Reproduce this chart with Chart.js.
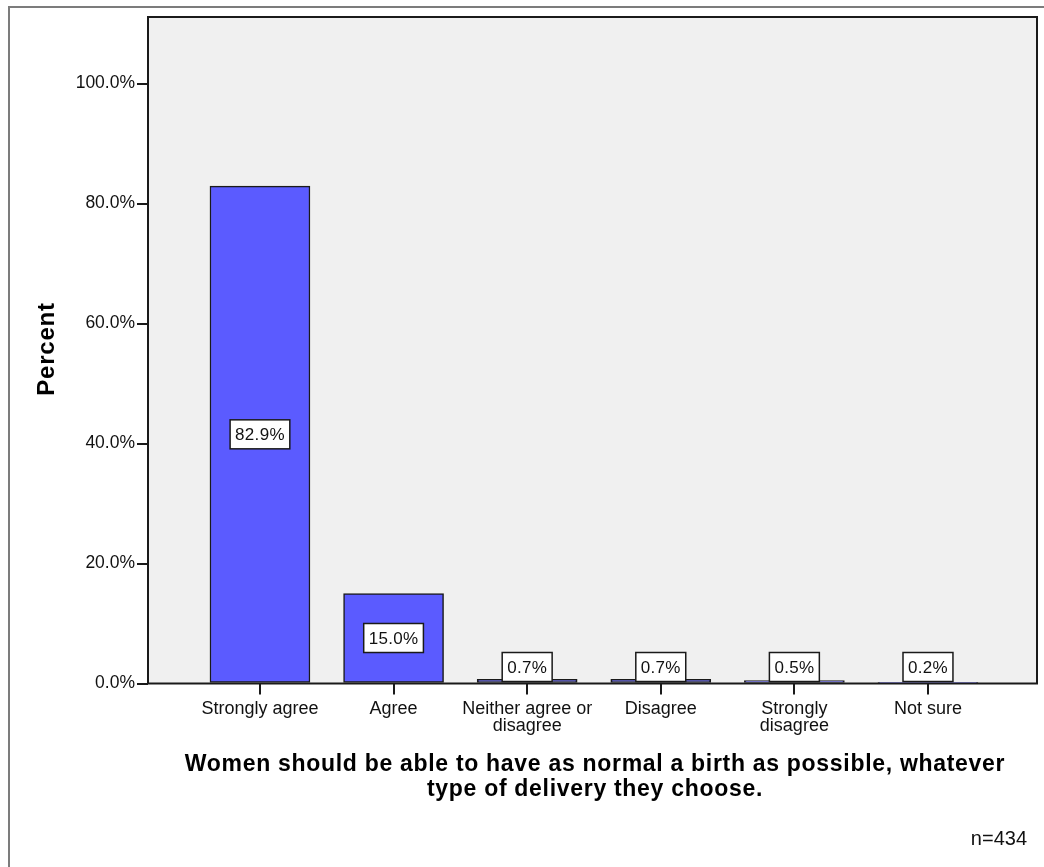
<!DOCTYPE html>
<html>
<head>
<meta charset="utf-8">
<script src="https://cdn.jsdelivr.net/npm/chart.js@4/dist/chart.umd.min.js"></script>
<style>
  body { margin: 0; background: #fff; }
  canvas { display: block; }
</style>
</head>
<body>
<canvas id="chart" width="1044" height="867"></canvas>
<script>
const categories = [
  'Strongly agree',
  'Agree',
  ['Neither agree or', 'disagree'],
  'Disagree',
  ['Strongly', 'disagree'],
  'Not sure'
]
const percents = [82.9, 15.0, 0.7, 0.7, 0.5, 0.2]
const yTicks = [0, 20, 40, 60, 80, 100]
const xTitle = ['Women should be able to have as normal a birth as possible, whatever', 'type of delivery they choose.']
const yTitle = 'Percent'
const note = 'n=434'

const FONT = 'Liberation Sans, Arial, sans-serif'
const INK = '#1a1a1a'

// frame, plot background, value boxes and titles
const decor = {
  id: 'decor',
  beforeDraw (chart) {
    const { ctx, chartArea: a } = chart
    ctx.save()
    ctx.fillStyle = '#fff'
    ctx.fillRect(0, 0, chart.width, chart.height)
    ctx.strokeStyle = '#7c7c7c'
    ctx.lineWidth = 2
    ctx.strokeRect(9, 7, chart.width + 20, chart.height + 20)
    ctx.fillStyle = '#f0f0f0'
    ctx.fillRect(a.left, a.top, a.right - a.left, a.bottom - a.top)
    ctx.restore()
  },
  afterDatasetsDraw (chart) {
    const { ctx, chartArea: a } = chart
    ctx.save()
    ctx.strokeStyle = INK
    ctx.lineWidth = 2
    ctx.strokeRect(a.left, a.top, a.right - a.left, a.bottom - a.top)

    ctx.font = '17px ' + FONT
    ctx.letterSpacing = '0.3px'
    ctx.textAlign = 'center'
    ctx.textBaseline = 'middle'
    const h = 29
    chart.getDatasetMeta(0).data.forEach((bar, i) => {
      const text = percents[i].toFixed(1) + '%'
      const w = ctx.measureText(text).width + 10
      let cy = (bar.y + bar.base) / 2
      cy = Math.min(cy, bar.base - 1 - h / 2)
      ctx.fillStyle = '#fff'
      ctx.fillRect(bar.x - w / 2, cy - h / 2, w, h)
      ctx.lineWidth = 1.5
      ctx.strokeStyle = INK
      ctx.strokeRect(bar.x - w / 2, cy - h / 2, w, h)
      ctx.fillStyle = '#111'
      ctx.fillText(text, bar.x, cy + 1)
    })
    ctx.restore()
  },
  afterDraw (chart) {
    const { ctx } = chart
    ctx.save()
    ctx.fillStyle = '#000'
    ctx.font = 'bold 23px ' + FONT
    ctx.letterSpacing = '0.7px'
    ctx.textAlign = 'center'
    ctx.textBaseline = 'alphabetic'
    xTitle.forEach((line, i) => ctx.fillText(line, 595, 771 + i * 25))

    ctx.font = 'bold 24px ' + FONT
    ctx.letterSpacing = '0.8px'
    ctx.textBaseline = 'middle'
    ctx.translate(47, 349)
    ctx.rotate(-Math.PI / 2)
    ctx.fillText(yTitle, 0, 0)
    ctx.setTransform(1, 0, 0, 1, 0, 0)

    ctx.font = '20px ' + FONT
    ctx.letterSpacing = '0px'
    ctx.textAlign = 'right'
    ctx.fillStyle = '#111'
    ctx.fillText(note, 1027, 839)
    ctx.restore()
  }
}

const ctx = document.getElementById('chart').getContext('2d')
const myChart = new Chart(ctx, {
  type: 'bar',
  data: {
    datasets: [{
      data: percents.map((v, i) => ({ x: i, y: v })),
      backgroundColor: '#5b5bff',
      borderColor: INK,
      borderWidth: 1.5,
      borderSkipped: false,
      barThickness: 100
    }]
  },
  plugins: [decor],
  options: {
    responsive: false,
    devicePixelRatio: 1,
    animation: false,
    layout: { padding: { top: 17, right: 7, left: 0, bottom: 0 } },
    plugins: { legend: { display: false }, tooltip: { enabled: false } },
    scales: {
      x: {
        type: 'linear',
        min: -0.838,
        max: 5.816,
        offset: false,
        border: { display: false },
        grid: { offset: false, drawOnChartArea: false, tickLength: 11, color: INK, lineWidth: 2 },
        ticks: {
          stepSize: 1,
          includeBounds: false,
          autoSkip: false,
          maxRotation: 0,
          padding: 6,
          color: '#111',
          font: { family: FONT, size: 18, lineHeight: '17px' },
          callback: v => categories[v]
        },
        afterFit: s => { s.height = 867 - 683.5 }
      },
      y: {
        min: 0,
        max: 111.1,
        border: { display: false },
        grid: { drawOnChartArea: false, tickLength: 11, color: INK, lineWidth: 2 },
        afterBuildTicks: s => { s.ticks = yTicks.map(value => ({ value })) },
        ticks: {
          padding: 2,
          color: '#111',
          font: { family: FONT, size: 17.5 },
          callback: v => v.toFixed(1) + '%'
        },
        afterFit: s => { s.width = 148 }
      }
    }
  }
})
</script>
</body>
</html>
